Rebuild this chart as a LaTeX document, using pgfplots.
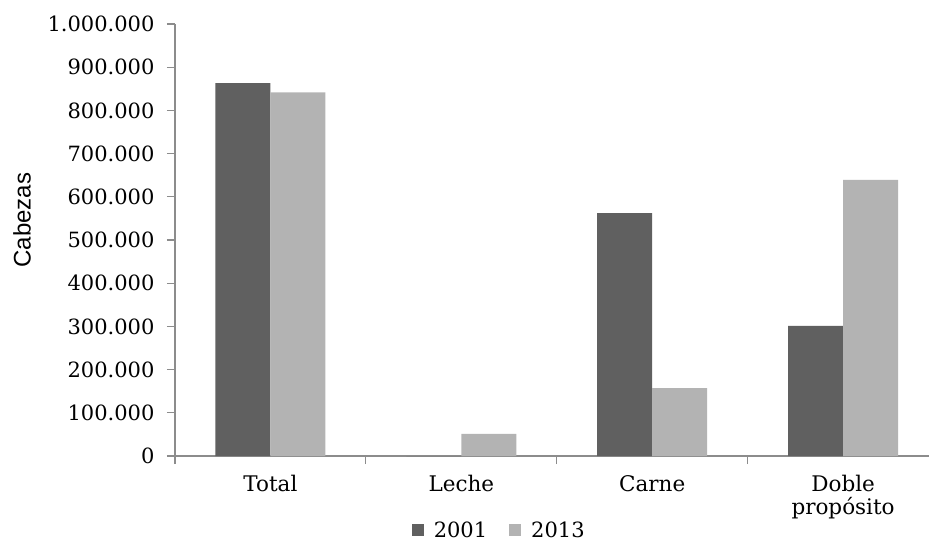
\documentclass[border=0pt]{standalone}
\usepackage{fontspec}
\setmainfont{DejaVu Serif}
\newfontfamily\labelsans{Liberation Sans}
\usepackage{pgfplots}
\pgfplotsset{compat=1.18}
\definecolor{darkbar}{HTML}{606060}
\definecolor{lightbar}{HTML}{B3B3B3}
\definecolor{axisgray}{HTML}{8C8C8C}
\begin{document}
\begin{tikzpicture}
\useasboundingbox (-175pt,-85pt) rectangle (754pt,456pt);
\begin{axis}[
  at={(0pt,0pt)}, anchor=south west,
  scale only axis, width=754pt, height=432pt,
  xmin=-0.5, xmax=3.45, ymin=0, ymax=1000000,
  scaled y ticks=false,
  axis x line*=bottom, axis y line*=left,
  axis line style={draw=axisgray, line width=1.2pt},
  ybar=0pt, bar width=0.288,
  xtick={0,1,2,3},
  xticklabels={Total,Leche,Carne,{Doble\\propósito}},
  minor xtick={-0.5,0.5,1.5,2.5},
  major x tick style={draw=none},
  minor x tick style={draw=axisgray, line width=1.2pt},
  y tick style={draw=axisgray, line width=1.2pt},
  tick align=outside, major tick length=8pt, minor tick length=8pt,
  ytick={0,100000,200000,300000,400000,500000,600000,700000,800000,900000,1000000},
  yticklabels={0,100.000,200.000,300.000,400.000,500.000,600.000,700.000,800.000,900.000,1.000.000},
  ticklabel style={font=\fontsize{21}{23}\selectfont},
  yticklabel style={xshift=-9pt},
  xticklabel style={align=center, yshift=-8pt, font=\fontsize{21.5}{23}\selectfont},
  ylabel={Cabezas},
  ylabel style={at={(axis description cs:-0.203,0.546)}, anchor=center, font=\labelsans\fontsize{24}{26}\selectfont},
  legend style={at={(axis description cs:0.43,-0.172)}, anchor=center, draw=none, fill=none,
    legend columns=2, font=\fontsize{21}{23}\selectfont,
    /tikz/every odd column/.append style={column sep=8pt},
    /tikz/every even column/.append style={column sep=20pt}},
  legend image code/.code={\fill[#1] (0pt,-6pt) rectangle (12pt,6pt);},
  clip=false,
]
\addplot[fill=darkbar, draw=none] coordinates {(0,863000) (1,0) (2,562000) (3,301000)};
\addplot[fill=lightbar, draw=none] coordinates {(0,842000) (1,51000) (2,157000) (3,639000)};
\legend{2001,2013}
\end{axis}
\end{tikzpicture}
\end{document}
